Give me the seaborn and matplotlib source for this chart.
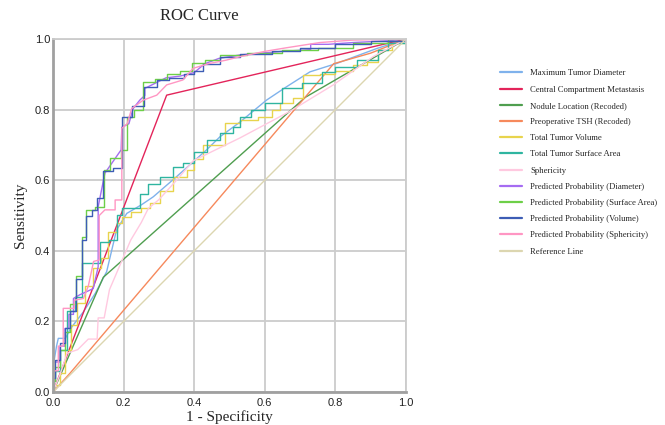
import numpy as np
import pandas as pd
import seaborn as sns
import matplotlib.pyplot as plt

# ROC points (1 - specificity, sensitivity)
diam_fpr = [0, 0, 0.01, 0.015, 0.035, 0.05, 0.086, 0.12, 0.152, 0.18, 0.209, 0.25, 0.284, 0.35,
            0.435, 0.473, 0.53, 0.605, 0.662, 0.728, 0.804, 0.917, 1.0]
diam_tpr = [0, 0.07, 0.13, 0.152, 0.152, 0.18, 0.227, 0.28, 0.341, 0.459, 0.506, 0.53, 0.553, 0.61,
            0.686, 0.723, 0.765, 0.827, 0.865, 0.907, 0.931, 0.973, 1.0]

ccm_fpr = [0, 0.322, 1.0]
ccm_tpr = [0, 0.841, 1.0]

nodule_fpr = [0, 0.1425, 0.715, 1.0]
nodule_tpr = [0, 0.325, 0.835, 1.0]

tsh_fpr = [0, 0.048, 0.795, 0.9, 1.0]
tsh_tpr = [0, 0.053, 0.93, 0.96, 1.0]

# step curves: level of sensitivity starting at each fpr value
vol_fpr = [0, 0, 0.02, 0.035, 0.05, 0.067, 0.09, 0.114, 0.135, 0.157, 0.18, 0.195, 0.22, 0.25, 0.275,
           0.303, 0.34, 0.379, 0.40, 0.425, 0.487, 0.53, 0.58, 0.62, 0.643, 0.68, 0.709, 0.756, 0.8,
           0.85, 0.889, 0.92, 0.96, 1.0]
vol_tpr = [0, 0.02, 0.053, 0.12, 0.19, 0.251, 0.30, 0.35, 0.38, 0.454, 0.48, 0.497, 0.51, 0.52, 0.535,
           0.57, 0.61, 0.629, 0.66, 0.70, 0.761, 0.77, 0.78, 0.80, 0.818, 0.832, 0.898, 0.90, 0.91,
           0.925, 0.936, 0.969, 0.99, 1.0]

surf_fpr = [0, 0, 0.006, 0.02, 0.04, 0.062, 0.081, 0.11, 0.133, 0.16, 0.18, 0.195, 0.22, 0.246, 0.27,
            0.303, 0.34, 0.368, 0.40, 0.435, 0.473, 0.51, 0.53, 0.56, 0.6, 0.648, 0.705, 0.74, 0.761,
            0.8, 0.86, 0.922, 0.95, 1.0]
surf_tpr = [0, 0.03, 0.06, 0.12, 0.23, 0.27, 0.365, 0.365, 0.426, 0.43, 0.501, 0.52, 0.52, 0.56, 0.59,
            0.61, 0.637, 0.65, 0.68, 0.714, 0.733, 0.752, 0.78, 0.80, 0.82, 0.86, 0.874, 0.874, 0.907,
            0.92, 0.94, 0.969, 0.99, 1.0]

spher_fpr = [0, 0.02, 0.04, 0.07, 0.1, 0.125, 0.128, 0.145, 0.16, 0.19, 0.22, 0.25, 0.27, 0.30,
             0.35, 0.397, 0.53, 0.671, 0.794, 0.907, 1.0]
spher_tpr = [0, 0.05, 0.11, 0.12, 0.15, 0.15, 0.21, 0.21, 0.29, 0.36, 0.43, 0.48, 0.52, 0.545,
             0.60, 0.655, 0.72, 0.795, 0.87, 0.95, 1.0]

pp_diam_fpr = [0, 0, 0.02, 0.02, 0.034, 0.034, 0.045, 0.045, 0.058, 0.058, 0.075, 0.114, 0.128, 0.128,
               0.147, 0.193, 0.195, 0.215, 0.227, 0.246, 0.26, 0.26, 0.29, 0.32, 0.36, 0.40, 0.43,
               0.47, 0.53, 0.65, 0.73, 0.73, 0.78, 0.85, 0.95, 1.0]
pp_diam_tpr = [0, 0.085, 0.085, 0.13, 0.13, 0.18, 0.18, 0.22, 0.22, 0.265, 0.275, 0.293, 0.355, 0.525,
               0.62, 0.686, 0.75, 0.76, 0.803, 0.827, 0.84, 0.86, 0.875, 0.89, 0.895, 0.905, 0.93,
               0.945, 0.955, 0.965, 0.97, 0.985, 0.985, 0.99, 0.995, 1.0]

pp_surf_fpr = [0, 0, 0.006, 0.02, 0.034, 0.048, 0.065, 0.081, 0.093, 0.12, 0.144, 0.161, 0.193, 0.21,
               0.23, 0.256, 0.289, 0.322, 0.36, 0.393, 0.43, 0.473, 0.55, 0.65, 0.75, 0.85, 0.95, 1.0]
pp_surf_tpr = [0, 0.03, 0.07, 0.12, 0.17, 0.25, 0.33, 0.44, 0.515, 0.525, 0.629, 0.662, 0.686, 0.78,
               0.80, 0.879, 0.888, 0.902, 0.91, 0.931, 0.94, 0.955, 0.96, 0.97, 0.975, 0.99, 1.0, 1.0]

pp_vol_fpr = [0, 0, 0.006, 0.02, 0.034, 0.048, 0.065, 0.081, 0.093, 0.11, 0.125, 0.143, 0.171, 0.195,
              0.223, 0.258, 0.294, 0.33, 0.37, 0.40, 0.425, 0.473, 0.53, 0.62, 0.7, 0.8, 0.9, 1.0]
pp_vol_tpr = [0, 0.04, 0.09, 0.14, 0.18, 0.23, 0.32, 0.43, 0.50, 0.515, 0.55, 0.625, 0.634, 0.778,
              0.81, 0.865, 0.884, 0.89, 0.90, 0.91, 0.93, 0.95, 0.957, 0.965, 0.975, 0.985, 0.995, 1.0]

pp_spher_fpr = [0, 0, 0.015, 0.015, 0.029, 0.029, 0.06, 0.06, 0.086, 0.1, 0.115, 0.131, 0.131, 0.147,
                0.176, 0.176, 0.195, 0.195, 0.21, 0.223, 0.256, 0.294, 0.322, 0.368, 0.397, 0.44,
                0.49, 0.53, 0.6, 0.66, 0.756, 0.85, 1.0]
pp_spher_tpr = [0, 0.06, 0.06, 0.13, 0.13, 0.237, 0.237, 0.26, 0.265, 0.30, 0.37, 0.374, 0.50, 0.516,
                0.516, 0.544, 0.544, 0.747, 0.76, 0.803, 0.827, 0.841, 0.87, 0.884, 0.917, 0.93,
                0.94, 0.95, 0.965, 0.975, 0.99, 0.997, 1.0]

ref_fpr = [0, 1.0]
ref_tpr = [0, 1.0]

labels = ["Maximum Tumor Diameter", "Central Compartment Metastasis", "Nodule Location (Recoded)",
          "Preoperative TSH (Recoded)", "Total Tumor Volume", "Total Tumor Surface Area", "Sphericity",
          "Predicted Probability (Diameter)", "Predicted Probability (Surface Area)",
          "Predicted Probability (Volume)", "Predicted Probability (Sphericity)", "Reference Line"]
colors = ["#7fb2ec", "#e3245a", "#4f9e4f", "#f6895c", "#e8d44d", "#2fb5a0", "#ffc9e0",
          "#a56cf2", "#6dcf48", "#3d5db5", "#ff96c3", "#dcd6b0"]

curves = [(diam_fpr, diam_tpr, False), (ccm_fpr, ccm_tpr, False), (nodule_fpr, nodule_tpr, False),
          (tsh_fpr, tsh_tpr, False), (vol_fpr, vol_tpr, True), (surf_fpr, surf_tpr, True),
          (spher_fpr, spher_tpr, False), (pp_diam_fpr, pp_diam_tpr, False),
          (pp_surf_fpr, pp_surf_tpr, True), (pp_vol_fpr, pp_vol_tpr, True),
          (pp_spher_fpr, pp_spher_tpr, False), (ref_fpr, ref_tpr, False)]

sns.set_style("whitegrid")
plt.rcParams['font.family'] = ['Liberation Sans', 'DejaVu Sans']

fig = plt.figure(figsize=(6.65, 4.25), dpi=100)
ax = fig.add_axes([0.0797, 0.0776, 0.5308, 0.8306])

for (fpr, tpr, stepped), lab, col in zip(curves, labels, colors):
    sns.lineplot(x=fpr, y=tpr, sort=False, estimator=None, color=col, linewidth=1.0,
                 drawstyle="steps-post" if stepped else "default", label=lab, ax=ax)

ticks = np.arange(0, 1.01, 0.2)
ax.set_xlim(0, 1)
ax.set_ylim(0, 1)
ax.set_xticks(ticks)
ax.set_yticks(ticks)
ax.set_xticklabels([f"{v:.1f}" for v in ticks])
ax.set_yticklabels([f"{v:.1f}" for v in ticks])
ax.tick_params(length=0, labelsize=8, colors="#222222")
ax.tick_params(axis="x", pad=4)
ax.tick_params(axis="y", pad=2)
ax.grid(True, color="#cccccc", linewidth=1.3)
for side in ["left", "bottom"]:
    ax.spines[side].set_color("#a0a0a0")
    ax.spines[side].set_linewidth(2)
for side in ["top", "right"]:
    ax.spines[side].set_color("#cccccc")
    ax.spines[side].set_linewidth(1.3)

serif = ['Liberation Serif', 'DejaVu Serif']
ax.set_xlabel("1 - Specificity", family=serif, fontsize=11, labelpad=2)
ax.set_ylabel("Sensitivity", family=serif, fontsize=11, labelpad=6)
fig.text(0.30, 0.962, "ROC Curve", family=serif, fontsize=12, ha="center", va="center")

leg = ax.legend(loc="upper left", bbox_to_anchor=(1.258, 0.924), frameon=False,
                prop={'family': serif, 'size': 6.2}, handlelength=2.55, handletextpad=0.93,
                labelspacing=0.95, borderaxespad=0)
for line in leg.get_lines():
    line.set_linewidth(1.6)

fig.savefig("out.png", dpi=100)
